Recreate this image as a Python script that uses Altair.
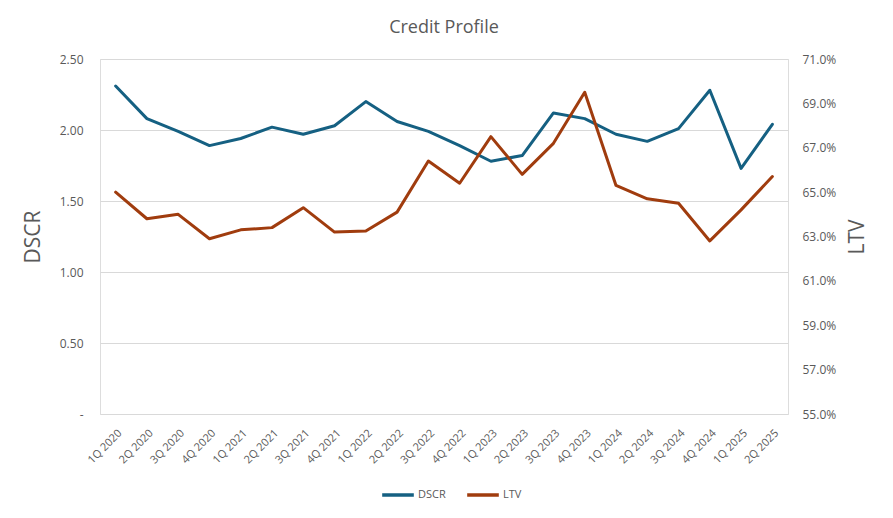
import altair as alt
import pandas as pd

quarters = ["1Q 2020", "2Q 2020", "3Q 2020", "4Q 2020",
            "1Q 2021", "2Q 2021", "3Q 2021", "4Q 2021",
            "1Q 2022", "2Q 2022", "3Q 2022", "4Q 2022",
            "1Q 2023", "2Q 2023", "3Q 2023", "4Q 2023",
            "1Q 2024", "2Q 2024", "3Q 2024", "4Q 2024",
            "1Q 2025", "2Q 2025"]
dscr = [2.31, 2.08, 1.99, 1.89, 1.94, 2.02, 1.97, 2.03, 2.20, 2.06, 1.99,
        1.89, 1.78, 1.82, 2.12, 2.08, 1.97, 1.92, 2.01, 2.28, 1.73, 2.04]
ltv = [0.650, 0.638, 0.640, 0.629, 0.633, 0.634, 0.643, 0.632, 0.6325, 0.641,
       0.664, 0.654, 0.675, 0.658, 0.672, 0.695, 0.653, 0.647, 0.645, 0.628,
       0.642, 0.657]
series = ["DSCR", "LTV"]
colors = ["#156082", "#A03C0E"]
dscr_ticks = [0, 0.5, 1.0, 1.5, 2.0, 2.5]
ltv_ticks = [0.55, 0.57, 0.59, 0.61, 0.63, 0.65, 0.67, 0.69, 0.71]

rows = []
for q, d, l in zip(quarters, dscr, ltv):
    rows.append({"quarter": q, "series": "DSCR", "value": d})
    rows.append({"quarter": q, "series": "LTV", "value": l})
df = pd.DataFrame(rows)

FONT = "Open Sans"
GRAY = "#595959"

x_enc = alt.X("quarter:N", sort=quarters,
              scale=alt.Scale(type="point", padding=0.5),
              axis=alt.Axis(title=None, labelAngle=-45, labelAlign="right",
                            labelBaseline="top", labelFontSize=11,
                            labelColor=GRAY, labelFont=FONT, ticks=False,
                            domain=False, grid=False, labelPadding=13))

color_enc = alt.Color("series:N",
                      scale=alt.Scale(domain=series, range=colors),
                      legend=alt.Legend(title=None, orient="none",
                                        legendX=280, legendY=418,
                                        direction="horizontal",
                                        symbolType="stroke",
                                        symbolStrokeWidth=3.5,
                                        symbolSize=1000,
                                        labelFont=FONT, labelFontSize=11,
                                        labelColor=GRAY, columnPadding=14,
                                        labelOffset=2))

left = alt.Chart(df).transform_filter(alt.datum.series == "DSCR").mark_line(
    strokeWidth=3, strokeCap="round", strokeJoin="round"
).encode(
    x=x_enc,
    y=alt.Y("value:Q",
            scale=alt.Scale(domain=[0, 2.5], nice=False, zero=True),
            axis=alt.Axis(title="DSCR", values=dscr_ticks, orient="left",
                          labelExpr="datum.value == 0 ? '-' : format(datum.value, '.2f')",
                          labelFontSize=12, labelColor=GRAY, labelFont=FONT,
                          titleFont=FONT, titleFontSize=21, titleColor=GRAY,
                          titleFontWeight="normal", titlePadding=16,
                          ticks=False, domain=False, grid=True,
                          gridColor="#D9D9D9", gridWidth=1, labelPadding=17)),
    color=color_enc,
)

right = alt.Chart(df).transform_filter(alt.datum.series == "LTV").mark_line(
    strokeWidth=3, strokeCap="round", strokeJoin="round"
).encode(
    x=x_enc,
    y=alt.Y("value:Q",
            scale=alt.Scale(domain=[0.55, 0.71], nice=False, zero=False),
            axis=alt.Axis(title="LTV", values=ltv_ticks, orient="right",
                          format=".1%", labelFontSize=12, labelColor=GRAY,
                          labelFont=FONT, titleFont=FONT, titleFontSize=21,
                          titleColor=GRAY, titleFontWeight="normal",
                          titleAngle=270, titlePadding=32,
                          ticks=False, domain=False, grid=False,
                          labelPadding=14)),
    color=color_enc,
)

chart = alt.layer(left, right).resolve_scale(y="independent").properties(
    width=688,
    height=355,
    title=alt.TitleParams("Credit Profile", font=FONT, fontSize=18,
                          fontWeight="normal", color=GRAY, anchor="middle",
                          offset=16),
    autosize=alt.AutoSizeParams(type="none"),
    padding={"left": 92, "top": 51, "right": 90, "bottom": 100},
).configure_view(stroke=None).configure(background="white")

chart.save("out.html", embed_options={"renderer": "svg", "actions": False})
